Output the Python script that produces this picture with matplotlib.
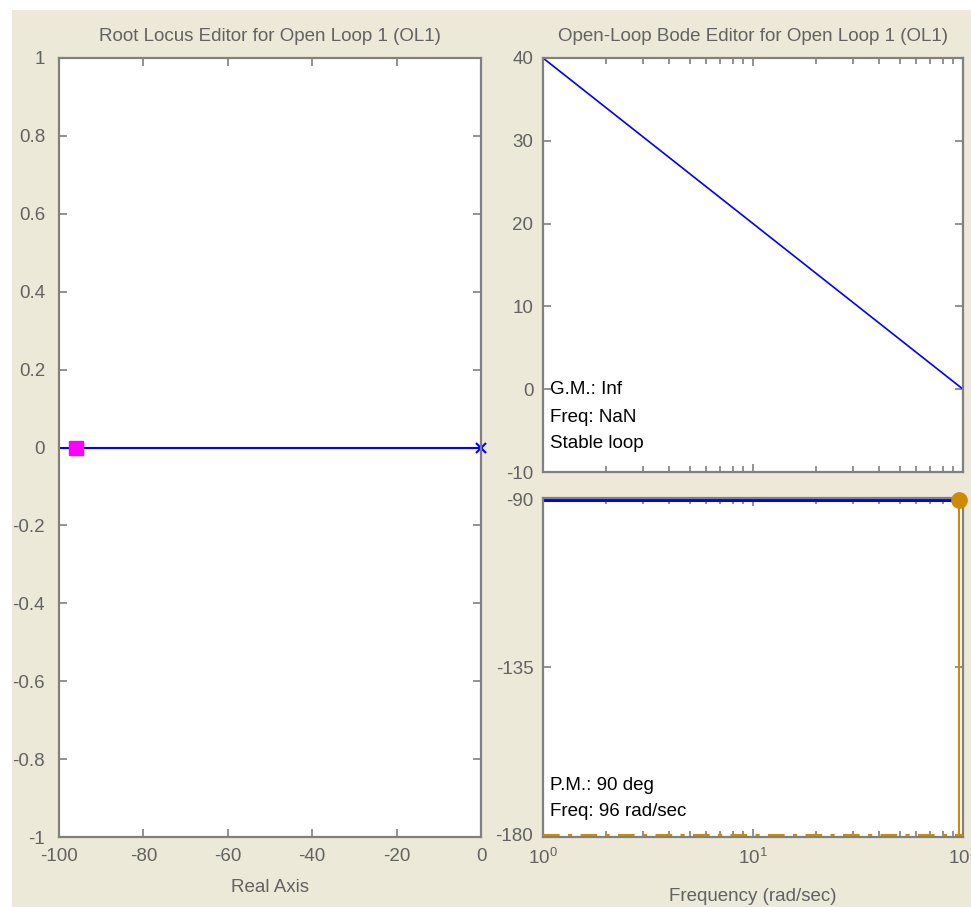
import matplotlib.pyplot as plt
from matplotlib.patches import Rectangle
from matplotlib.ticker import LogLocator, NullFormatter

# --- data ------------------------------------------------------------------
rl_locus_x = [-100, 0]          # root locus branch along the real axis
rl_locus_y = [0, 0]
rl_pole_x = [0]                 # open-loop pole
rl_pole_y = [0]
rl_cl_x = [-96]                 # closed-loop pole (magenta square)
rl_cl_y = [0]

bode_freq = [1, 10, 100]        # rad/sec
bode_mag_db = [40, 20, 0]
bode_phase = [-90, -90, -90]

pm_freq = 96
pm_phase = -90
ref_phase = -180

gm_text = ["G.M.: Inf", "Freq: NaN", "Stable loop"]
pm_text = ["P.M.: 90 deg", "Freq: 96 rad/sec"]

rl_xticks = [-100, -80, -60, -40, -20, 0]
rl_yticks = [-1, -0.8, -0.6, -0.4, -0.2, 0, 0.2, 0.4, 0.6, 0.8, 1]
mag_yticks = [-10, 0, 10, 20, 30, 40]
phase_yticks = [-180, -135, -90]

# --- style -------------------------------------------------------------------
W, H = 971, 907
BEIGE = "#ECE9D8"
GREY_TXT = "#626262"
SPINE = "#808080"
ORANGE = "#D08A00"
FS = 13.5

plt.rcParams["font.family"] = ["Liberation Sans", "DejaVu Sans"]
plt.rcParams["mathtext.fontset"] = "custom"
plt.rcParams["mathtext.rm"] = "Liberation Sans"
plt.rcParams["axes.unicode_minus"] = False


def _px_axes(fig, left, top, right, bottom):
    """Add axes given pixel edges (origin top-left)."""
    return fig.add_axes([left / W, (H - bottom) / H,
                         (right - left) / W, (bottom - top) / H])


def _style(ax, ypad):
    for s in ax.spines.values():
        s.set_color(SPINE)
        s.set_linewidth(1.6)
    ax.tick_params(which="both", direction="in", top=True, right=True,
                   colors=SPINE, labelcolor=GREY_TXT, labelsize=FS)
    ax.tick_params(which="major", length=6, width=1.2)
    ax.tick_params(which="minor", length=4, width=1.2)
    ax.tick_params(axis="x", which="both", pad=8)
    ax.tick_params(axis="y", which="both", pad=ypad)


fig = plt.figure(figsize=(W / 100, H / 100), dpi=100, facecolor="white")
fig.patches.append(Rectangle((12 / W, 0), 1 - 12 / W, 1 - 10 / H,
                             transform=fig.transFigure, facecolor=BEIGE,
                             edgecolor="none", zorder=-10))

# --- root locus ---------------------------------------------------------------
ax_rl = _px_axes(fig, 59, 58, 481, 837)
_style(ax_rl, ypad=10)
ax_rl.plot(rl_locus_x, rl_locus_y, color="#0000FF", lw=1.5)
ax_rl.plot(rl_pole_x, rl_pole_y, "x", color="#0000FF", ms=7, mew=1.5,
           clip_on=False)
ax_rl.plot(rl_cl_x, rl_cl_y, "s", color="#FF00FF", ms=10, mec="#FF00FF")
ax_rl.set_xlim(-100, 0)
ax_rl.set_ylim(-1, 1)
ax_rl.set_xticks(rl_xticks)
ax_rl.set_yticks(rl_yticks)
ax_rl.set_yticklabels([f"{v:g}" for v in rl_yticks])
ax_rl.set_xlabel("Real Axis", color=GREY_TXT, fontsize=FS, labelpad=10)
ax_rl.set_title("Root Locus Editor for Open Loop 1 (OL1)", color=GREY_TXT,
                fontsize=FS, pad=12)

# --- bode magnitude ---------------------------------------------------------------
ax_mag = _px_axes(fig, 543, 58, 963, 472)
_style(ax_mag, ypad=7)
ax_mag.semilogx(bode_freq, bode_mag_db, color="#0000FF", lw=1.2)
ax_mag.set_xlim(1, 100)
ax_mag.set_ylim(-10, 40)
ax_mag.set_yticks(mag_yticks)
ax_mag.xaxis.set_minor_locator(LogLocator(base=10, subs=range(2, 10)))
ax_mag.xaxis.set_minor_formatter(NullFormatter())
ax_mag.tick_params(axis="x", labelbottom=False)
ax_mag.set_title("Open-Loop Bode Editor for Open Loop 1 (OL1)",
                 color=GREY_TXT, fontsize=FS, pad=12)
for i, t in enumerate(gm_text):
    ax_mag.text(7 / 420, 82 / 414 - i * 27 / 414, t, transform=ax_mag.transAxes,
                fontsize=FS, color="black", va="center", ha="left")

# --- bode phase ---------------------------------------------------------------
ax_ph = _px_axes(fig, 543, 498, 963, 837)
_style(ax_ph, ypad=7)
ax_ph.semilogx(bode_freq, bode_phase, color="#0000FF", lw=2.2)
ax_ph.plot([bode_freq[0], bode_freq[-1]], [ref_phase, ref_phase],
           color=ORANGE, lw=1.5, ls=(0, (8, 4, 2, 4)), clip_on=False,
           zorder=3)
ax_ph.plot([pm_freq, pm_freq], [pm_phase, ref_phase], color=ORANGE, lw=1.5)
ax_ph.plot([pm_freq], [pm_phase], "o", color=ORANGE, ms=11, clip_on=False,
           zorder=5)
ax_ph.set_xlim(1, 100)
ax_ph.set_ylim(-180.6, -89.5)
ax_ph.set_yticks(phase_yticks)
ax_ph.xaxis.set_minor_locator(LogLocator(base=10, subs=range(2, 10)))
ax_ph.xaxis.set_minor_formatter(NullFormatter())
ax_ph.set_xlabel("Frequency (rad/sec)", color=GREY_TXT, fontsize=FS,
                 labelpad=14)
for i, t in enumerate(pm_text):
    ax_ph.text(7 / 420, 52 / 339 - i * 27 / 339, t, transform=ax_ph.transAxes,
               fontsize=FS, color="black", va="center", ha="left")

fig.savefig("out.png", dpi=100, facecolor="white")
